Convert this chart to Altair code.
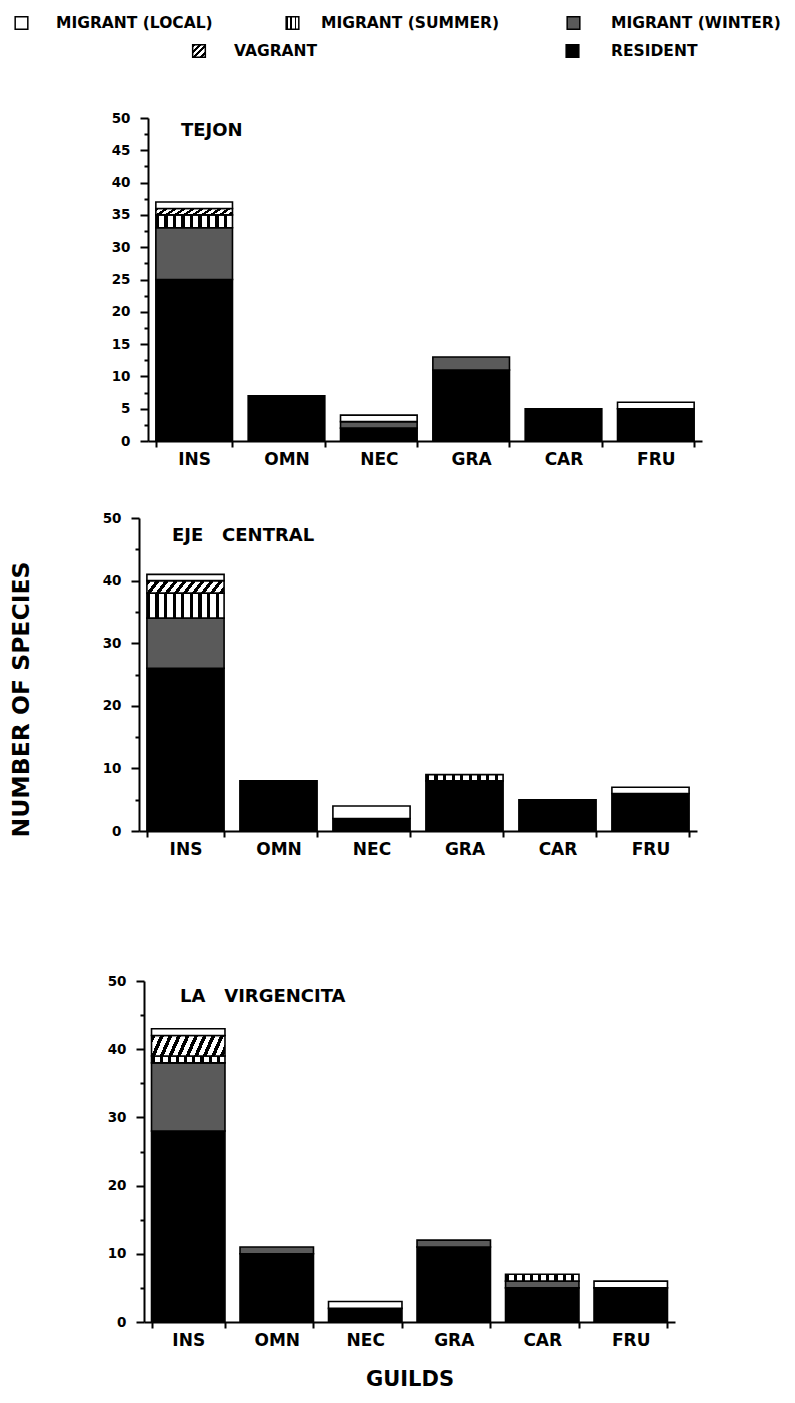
import altair as alt
import pandas as pd

# ---------------- data ----------------
guilds = ["INS", "OMN", "NEC", "GRA", "CAR", "FRU"]
statuses = ["RESIDENT", "MIGRANT (WINTER)", "MIGRANT (SUMMER)", "VAGRANT", "MIGRANT (LOCAL)"]
legend_labels = ["MIGRANT (LOCAL)", "MIGRANT (SUMMER)", "MIGRANT (WINTER)", "VAGRANT", "RESIDENT"]
NB = "\u00a0"
sites = ["TEJON", "EJE" + NB * 3 + "CENTRAL", "LA" + NB * 3 + "VIRGENCITA"]

tejon_resident = [25, 7, 2, 11, 5, 5]
tejon_winter = [8, 0, 1, 2, 0, 0]
tejon_summer = [2, 0, 0, 0, 0, 0]
tejon_vagrant = [1, 0, 0, 0, 0, 0]
tejon_local = [1, 0, 1, 0, 0, 1]

eje_resident = [26, 8, 2, 8, 5, 6]
eje_winter = [8, 0, 0, 0, 0, 0]
eje_summer = [4, 0, 0, 1, 0, 0]
eje_vagrant = [2, 0, 0, 0, 0, 0]
eje_local = [1, 0, 2, 0, 0, 1]

virg_resident = [28, 10, 2, 11, 5, 5]
virg_winter = [10, 1, 0, 1, 1, 0]
virg_summer = [1, 0, 0, 0, 1, 0]
virg_vagrant = [3, 0, 0, 0, 0, 0]
virg_local = [1, 0, 1, 0, 0, 1]

site_series = {
    sites[0]: [tejon_resident, tejon_winter, tejon_summer, tejon_vagrant, tejon_local],
    sites[1]: [eje_resident, eje_winter, eje_summer, eje_vagrant, eje_local],
    sites[2]: [virg_resident, virg_winter, virg_summer, virg_vagrant, virg_local],
}

rows = []
for site, series in site_series.items():
    for k, (status, vals) in enumerate(zip(statuses, series)):
        for g, v in zip(guilds, vals):
            rows.append({"site": site, "guild": g, "status": status, "order": k, "count": v})
df = pd.DataFrame(rows)

# ---------------- styles ----------------
FONT = "DejaVu Sans"


def stripes(n, dark_frac, x2, y2, dark="black", light="white"):
    stops = []
    for i in range(n):
        a = i / n
        b = (i + dark_frac) / n
        c = (i + 1) / n
        stops += [
            {"offset": a, "color": dark},
            {"offset": b, "color": dark},
            {"offset": b, "color": light},
            {"offset": c, "color": light},
        ]
    return {"gradient": "linear", "x1": 0, "y1": 0, "x2": x2, "y2": y2, "stops": stops}


WINTER = "#5a5a5a"
bar_fills = {
    "RESIDENT": "black",
    "MIGRANT (WINTER)": WINTER,
    "MIGRANT (SUMMER)": stripes(9, 0.38, 1, 0),
    "VAGRANT": stripes(10, 0.45, 1.15, 0.14),
    "MIGRANT (LOCAL)": "white",
}
legend_fills = {
    "RESIDENT": "black",
    "MIGRANT (WINTER)": WINTER,
    "MIGRANT (SUMMER)": stripes(3, 0.35, 1, 0),
    "VAGRANT": stripes(4, 0.45, 1, 1),
    "MIGRANT (LOCAL)": "white",
}


def panel(site, width, height, top_off, xrange, y_offset, label_step, tick_step, title_xy,
          ytitle=False, ytitle_x=0, ytitle_y=0, xtitle=None, pad_inner=0.17):
    yvals = [i * tick_step for i in range(int(50 / tick_step) + 1)]
    yaxis_kwargs = dict(
        values=yvals,
        labelExpr=f"datum.value % {label_step} === 0 ? datum.label : ''",
        tickSize={"condition": {"test": f"datum.value % {label_step} === 0", "value": 8}, "value": 4},
        tickWidth=2, tickColor="black", domainColor="black", domainWidth=2,
        labelFont=FONT, labelFontWeight="bold", labelFontSize=13.5, labelColor="black",
        labelPadding=10, grid=False, offset=y_offset,
    )
    if ytitle:
        yaxis_kwargs.update(
            title="NUMBER OF SPECIES", titleFont=FONT, titleFontWeight="bold", titleFontSize=23.5,
            titleColor="black", titleX=ytitle_x, titleY=ytitle_y, titleAngle=270,
            titleBaseline="bottom", titleAlign="center",
        )
    else:
        yaxis_kwargs.update(title=None)
    yaxis = alt.Axis(**yaxis_kwargs)
    xaxis_kwargs = dict(
        labelAngle=0, tickBand="extent", tickSize=6, tickWidth=2, tickColor="black",
        domainColor="black", domainWidth=2, labelFont=FONT, labelFontWeight="bold",
        labelFontSize=17, labelColor="black", labelPadding=4, grid=False,
    )
    if xtitle:
        xaxis_kwargs.update(title=xtitle, titleFont=FONT, titleFontWeight="bold",
                            titleFontSize=21, titleColor="black", titlePadding=20)
    else:
        xaxis_kwargs.update(title=None)
    xaxis = alt.Axis(**xaxis_kwargs)
    xscale = alt.Scale(domain=guilds, range=xrange, paddingInner=pad_inner,
                       paddingOuter=pad_inner / 2)
    yscale = alt.Scale(domain=[0, 50], nice=False, range=[height, top_off])

    base = alt.Chart(df[df["site"] == site]).transform_stack(
        stack="count", groupby=["guild"], as_=["y0", "y1"],
        sort=[alt.SortField("order", order="ascending")],
    )
    layers = []
    for s in statuses:
        layers.append(
            base.transform_filter((alt.datum.status == s) & (alt.datum["count"] > 0))
            .mark_bar(fill=bar_fills[s], stroke="black", strokeWidth=1.6)
            .encode(
                x=alt.X("guild:N", sort=guilds, scale=xscale, axis=xaxis),
                y=alt.Y("y0:Q", scale=yscale, axis=yaxis),
                y2="y1:Q",
            )
        )
    txt = alt.Chart(pd.DataFrame({"t": [site]})).mark_text(
        font=FONT, fontWeight="bold", fontSize=18, align="left", baseline="middle", color="black"
    ).encode(x=alt.value(title_xy[0]), y=alt.value(title_xy[1]), text="t:N")
    layers.append(txt)
    return alt.layer(*layers).properties(width=width, height=height)


# cell origins: x = 138 (absolute); cell tops ~ 70, 468, 859 (absolute)
p1 = panel(sites[0], 563, 371, 48, [9, 563], -9, 5, 2.5, (42, 61))
p2 = panel(sites[1], 558, 364, 51, [0, 558], 0, 10, 5, (33, 69),
           ytitle=True, ytitle_x=-106, ytitle_y=232)
p3 = panel(sites[2], 536, 465, 124, [5, 536], -5, 10, 5, (41, 140), xtitle="GUILDS")

# ---------------- legend ----------------
legend_pos = {
    "MIGRANT (LOCAL)": (-117.5, 13, -83),
    "MIGRANT (SUMMER)": (153.5, 13, 182),
    "MIGRANT (WINTER)": (434.5, 13, 472),
    "VAGRANT": (60, 41, 95),
    "RESIDENT": (433.5, 41, 472),
}
legend_layers = []
for lab in legend_labels:
    sx, sy, tx = legend_pos[lab]
    one = alt.Chart(pd.DataFrame({"label": [lab]}))
    legend_layers.append(
        one.mark_square(size=160, fill=legend_fills[lab], stroke="black", strokeWidth=1.5, opacity=1)
        .encode(x=alt.value(sx), y=alt.value(sy))
    )
    legend_layers.append(
        one.mark_text(font=FONT, fontWeight="bold", fontSize=15.5, align="left",
                      baseline="middle", color="black")
        .encode(x=alt.value(tx), y=alt.value(sy), text="label:N")
    )
legend = alt.layer(*legend_layers).properties(width=560, height=60)

chart = alt.vconcat(legend, p1, p2, p3, spacing=0).properties(
    padding={"left": 1, "top": 2, "right": 0, "bottom": 0}
).configure_view(stroke=None)

chart.save("out.html", embed_options={"renderer": "svg", "actions": False})
